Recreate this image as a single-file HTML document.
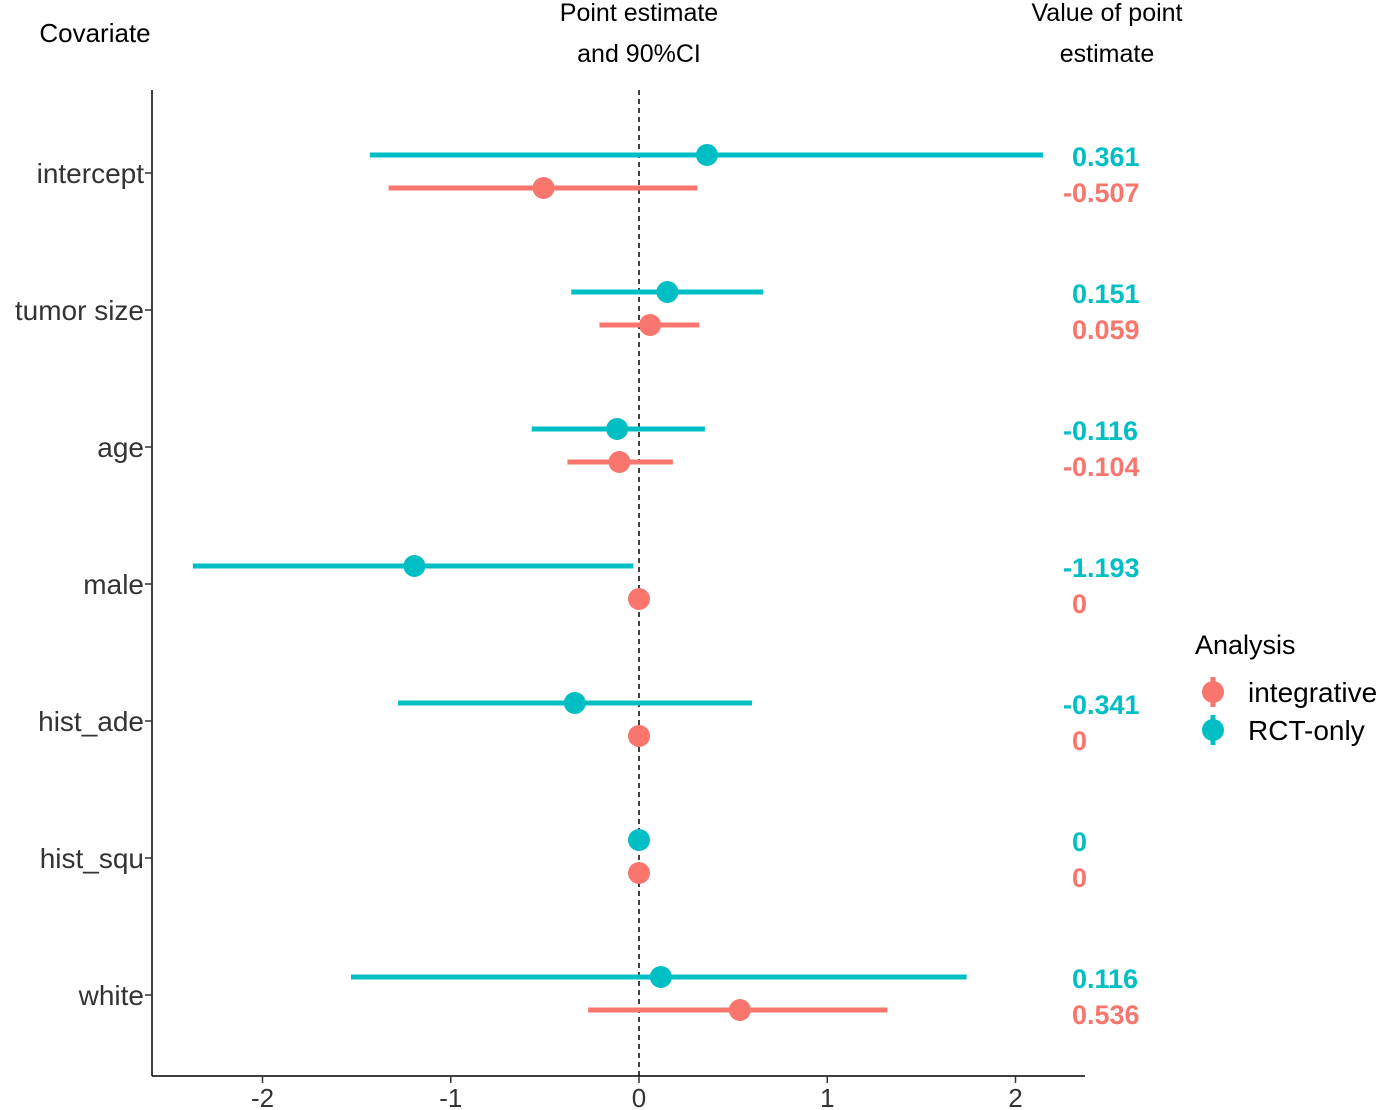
<!DOCTYPE html>
<html><head><meta charset="utf-8"><style>
html,body{margin:0;padding:0;background:#fff;}
svg{display:block;font-family:"Liberation Sans",sans-serif;}
</style></head><body>
<svg id="chart" width="1380" height="1110">
<text x="95" y="42" font-size="26" text-anchor="middle" fill="#000">Covariate</text>
<text x="639" y="21" font-size="25" text-anchor="middle" fill="#000">Point estimate</text>
<text x="639" y="62" font-size="25" text-anchor="middle" fill="#000">and 90%CI</text>
<text x="1107" y="21" font-size="25" text-anchor="middle" fill="#000">Value of point</text>
<text x="1107" y="62" font-size="25" text-anchor="middle" fill="#000">estimate</text>
<g id="plot"></g>
<g>
<text x="1195" y="654" font-size="27" fill="#000">Analysis</text>
<g>
<line x1="1213" y1="677" x2="1213" y2="707" stroke="#F8766D" stroke-width="5"/>
<circle cx="1213" cy="692" r="11" fill="#F8766D"/>
<text x="1248" y="702" font-size="28" fill="#000">integrative</text></g>
<g>
<line x1="1213" y1="715" x2="1213" y2="745" stroke="#00BFC4" stroke-width="5"/>
<circle cx="1213" cy="730" r="11" fill="#00BFC4"/>
<text x="1248" y="740" font-size="28" fill="#000">RCT-only</text></g>
</g>
</svg>
<script>
const covariates=["intercept","tumor size","age","male","hist_ade","hist_squ","white"];
const rctEst=[0.361,0.151,-0.116,-1.193,-0.341,0,0.116];
const rctLo=[-1.43,-0.36,-0.57,-2.37,-1.28,0,-1.53];
const rctHi=[2.146,0.66,0.35,-0.03,0.60,0,1.74];
const intEst=[-0.507,0.059,-0.104,0,0,0,0.536];
const intLo=[-1.33,-0.21,-0.38,0,0,0,-0.27];
const intHi=[0.31,0.32,0.18,0,0,0,1.32];
const rctLabels=["0.361","0.151","-0.116","-1.193","-0.341","0","0.116"];
const intLabels=["-0.507","0.059","-0.104","0","0","0","0.536"];
const xTicks=[-2,-1,0,1,2];
const xTickLabels=["-2","-1","0","1","2"];

const NS="http://www.w3.org/2000/svg";
const g=document.getElementById('plot');
const X=v=>639+v*188.25;
const Y=i=>173+i*137;
function mk(tag,attrs,parent){const e=document.createElementNS(NS,tag);for(const k in attrs)e.setAttribute(k,attrs[k]);(parent||g).appendChild(e);return e;}
const RED="#F8766D",TEAL="#00BFC4";
let a=mk('line',{x1:152,y1:90,x2:152,y2:1076,stroke:'#000','stroke-width':1.5});


a=mk('line',{x1:152,y1:1076,x2:1085,y2:1076,stroke:'#000','stroke-width':1.5});


a=mk('line',{x1:X(0),y1:90,x2:X(0),y2:1076,stroke:'#000','stroke-width':1.5,'stroke-dasharray':'5,4'});


xTicks.forEach((t,i)=>{
  mk('line',{x1:X(t),y1:1076,x2:X(t),y2:1083,stroke:'#333','stroke-width':1.5});
  const tx=mk('text',{x:X(t),y:1107,'font-size':26,'text-anchor':'middle',fill:'#333'});
  tx.textContent=xTickLabels[i];
  
  
});
covariates.forEach((c,i)=>{
  const y=Y(i);
  mk('line',{x1:145,y1:y,x2:152,y2:y,stroke:'#333','stroke-width':1.5});
  const tl=mk('text',{x:144,y:y+10,'font-size':28,'text-anchor':'end',fill:'#333'});
  tl.textContent=c;
  
  
  const series=[[rctEst,rctLo,rctHi,rctLabels,TEAL,-18,'rct',11],[intEst,intLo,intHi,intLabels,RED,15,'integrative',14]];
  series.forEach(s=>{
    const yy=y+s[5];
    const grp=mk('g',{});
    
    
    mk('line',{x1:X(s[1][i]),y1:yy,x2:X(s[2][i]),y2:yy,stroke:s[4],'stroke-width':5},grp);
    mk('circle',{cx:X(s[0][i]),cy:yy,r:11,fill:s[4]},grp);
    const lab=s[3][i];
    const neg=lab[0]==='-';
    const vt=mk('text',{x:neg?1063:1072,y:yy+s[7],'font-size':27,'font-weight':'bold',fill:s[4]});
    vt.textContent=lab;
    
    
  });
});
</script>
</body></html>
